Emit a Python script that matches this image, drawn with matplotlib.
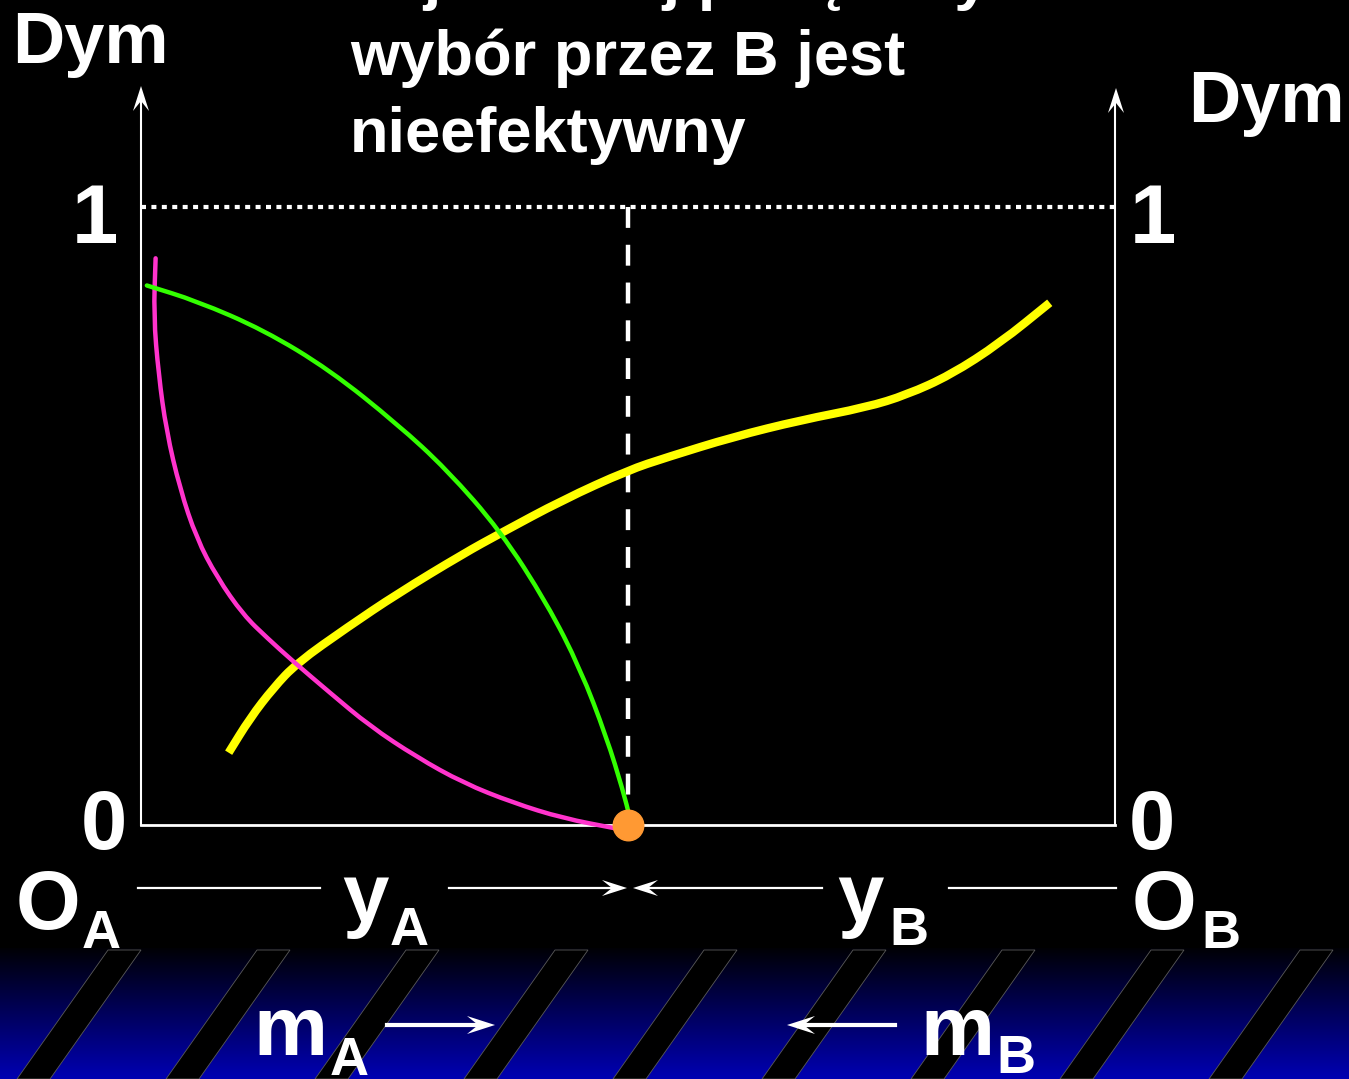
import matplotlib
matplotlib.use('Agg')
import matplotlib.pyplot as plt
from matplotlib.patches import Polygon, PathPatch
from matplotlib.path import Path
import numpy as np

W, H = 1349, 1079

# curves in axis units: x from O_A (0) to O_B (1), y "Dym" from 0 to 1
magenta_x = [0.015, 0.013, 0.018, 0.026, 0.040, 0.057, 0.078, 0.105, 0.130,
             0.156, 0.194, 0.235, 0.283, 0.331, 0.382, 0.433, 0.489]
magenta_y = [0.917, 0.824, 0.730, 0.638, 0.544, 0.464, 0.401, 0.340, 0.302,
             0.265, 0.214, 0.160, 0.110, 0.068, 0.036, 0.011, -0.006]

green_x = [0.006, 0.057, 0.126, 0.194, 0.263, 0.314, 0.369, 0.417, 0.451,
           0.478, 0.495, 0.502]
green_y = [0.873, 0.848, 0.801, 0.736, 0.649, 0.575, 0.476, 0.358, 0.253,
           0.142, 0.055, 0.011]

yellow_x = [0.090, 0.112, 0.136, 0.160, 0.212, 0.263, 0.331, 0.369, 0.433,
            0.500, 0.540, 0.608, 0.677, 0.745, 0.786, 0.831, 0.882, 0.933]
yellow_y = [0.117, 0.173, 0.222, 0.262, 0.320, 0.374, 0.439, 0.472, 0.526,
            0.574, 0.595, 0.628, 0.655, 0.676, 0.696, 0.728, 0.780, 0.845]

choice_x = 0.5   # the dashed line / orange point

title_lines = ['najbardziej pożądany', 'wybór przez B jest', 'nieefektywny']

plt.rcParams['font.family'] = ['Liberation Sans', 'DejaVu Sans']
plt.rcParams['font.weight'] = 'bold'

fig = plt.figure(figsize=(W / 100, H / 100), dpi=100, facecolor='black')

# background layer in pixel coords (labels, band at the bottom)
bg = fig.add_axes([0, 0, 1, 1])
bg.set_facecolor('black')

grad = np.linspace(0, 1, 256).reshape(-1, 1)
cols = np.zeros((256, 1, 3))
cols[..., 2] = 0.02 + 0.68 * grad
bg.imshow(cols, extent=(0, W, H, 948), aspect='auto', zorder=0)

for x0 in np.arange(108, 1400, 149):
    bg.add_patch(Polygon([(x0, 950), (x0 + 33, 950), (x0 - 58, H), (x0 - 91, H)],
                         closed=True, fc='black', ec='#5a5a5a', lw=0.6, zorder=1))

bg.set_xlim(0, W)
bg.set_ylim(H, 0)
bg.axis('off')


def head(tip, d, length=25, half=8):
    tx, ty = tip
    dx, dy = d
    bx, by = tx - dx * length, ty - dy * length
    nx, ny = tx - dx * length * 0.6, ty - dy * length * 0.6
    pts = [(tx, ty), (bx - dy * half, by + dx * half), (nx, ny),
           (bx + dy * half, by - dx * half)]
    bg.add_patch(Polygon(pts, closed=True, fc='white', ec='none', zorder=5))


def label(x, y, s, size, sub=None, sx=None, sy=None):
    bg.text(x, y, s, color='white', fontsize=size, fontweight='bold',
            ha='center', va='baseline', zorder=6)
    if sub:
        bg.text(sx, sy, sub, color='white', fontsize=39, fontweight='bold',
                ha='center', va='baseline', zorder=6)


def smooth(ax, xs, ys, **kw):
    # quadratic bezier through the midpoints, the read points act as controls
    pts = np.column_stack([xs, ys])
    mids = (pts[:-1] + pts[1:]) / 2
    verts = [pts[0], mids[0]]
    codes = [Path.MOVETO, Path.LINETO]
    for i in range(1, len(pts) - 1):
        verts += [pts[i], mids[i]]
        codes += [Path.CURVE3, Path.CURVE3]
    verts.append(pts[-1])
    codes.append(Path.LINETO)
    ax.add_patch(PathPatch(Path(verts, codes), fill=False, clip_on=False,
                           joinstyle='round', **kw))


# title (first line cut off by the top edge)
for i, line in enumerate(title_lines):
    bg.text(350, -2 + 77 * i, line, color='white', fontsize=45.5,
            fontweight='bold', ha='left', va='baseline')

bg.text(12, 63, 'Dym', color='white', fontsize=52, ha='left', va='baseline')
bg.text(1188, 122, 'Dym', color='white', fontsize=52, ha='left', va='baseline')

label(95, 243, '1', 60)
label(1153, 243, '1', 60)
label(104, 849, '0', 60)
label(1152, 849, '0', 60)

label(48, 929, 'O', 60, 'A', 101, 948)
label(365, 922, 'y', 60, 'A', 409, 945)
label(860, 922, 'y', 60, 'B', 909, 945)
label(1164, 929, 'O', 60, 'B', 1221, 948)
label(290, 1055, 'm', 60, 'A', 349, 1075)
label(957, 1055, 'm', 60, 'B', 1016, 1073)

# y_A / y_B measuring line
bg.plot([138, 320], [888, 888], color='white', lw=1.6)
bg.plot([449, 612], [888, 888], color='white', lw=1.6)
head((627, 888), (1, 0))
bg.plot([822, 648], [888, 888], color='white', lw=1.6)
head((633, 888), (-1, 0))
bg.plot([949, 1116], [888, 888], color='white', lw=1.6)

# m_A / m_B arrows
bg.plot([387, 480], [1025, 1025], color='white', lw=3)
head((495, 1025), (1, 0), length=28, half=9)
bg.plot([895, 802], [1025, 1025], color='white', lw=3)
head((787, 1025), (-1, 0), length=28, half=9)

# axis arrow heads
head((141, 86), (0, -1))
head((1116, 88), (0, -1))

# chart layer in axis units
ax = fig.add_axes([141 / W, 1 - 825 / H, 974 / W, 618 / H])
ax.set_xlim(0, 1)
ax.set_ylim(0, 1)
ax.axis('off')
ax.patch.set_alpha(0)

ax.plot([0, 0], [0, 1.18], color='white', lw=1.5, clip_on=False)
ax.plot([1, 1], [0, 1.18], color='white', lw=1.5, clip_on=False)
ax.plot([0, 1], [0, 0], color='white', lw=2, clip_on=False)
ax.plot([0, 1], [1, 1], color='white', lw=3, linestyle=(0, (1.2, 1.3)),
        dash_capstyle='butt', clip_on=False)
ax.plot([choice_x, choice_x], [1, 0], color='white', lw=3.2,
        linestyle=(0, (4.7, 3.8)), dash_capstyle='butt', clip_on=False)

smooth(ax, yellow_x, yellow_y, ec='#FFFF00', lw=6, capstyle='butt', zorder=3)
smooth(ax, magenta_x, magenta_y, ec='#FF33CC', lw=3.2, capstyle='round', zorder=4)
smooth(ax, green_x, green_y, ec='#33FF00', lw=3.2, capstyle='round', zorder=4)
ax.plot(choice_x, 0, 'o', ms=22, color='#FF9933', clip_on=False, zorder=6)

fig.savefig('out.png', dpi=100, facecolor='black')
